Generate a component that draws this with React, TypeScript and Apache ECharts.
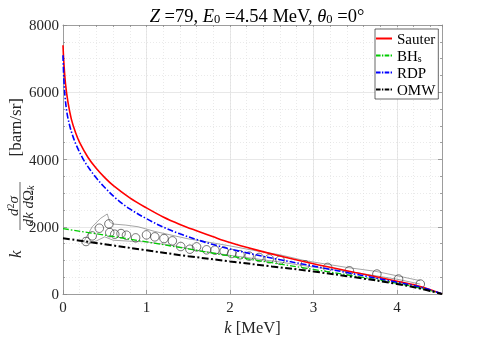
import { useEffect, useRef } from 'react';
import * as echarts from 'echarts';

const FONT = '"Liberation Serif", "DejaVu Serif", serif';
const TXT = '#262626';

// Sauter (red, solid)
const sauterK = [0, 0.01, 0.03, 0.06, 0.1, 0.15, 0.2, 0.3, 0.4, 0.5, 0.6, 0.8, 1.0, 1.2, 1.4, 1.6, 1.8, 2.0, 2.3, 2.6, 3.0, 3.5, 4.0, 4.3, 4.54];
const sauterV = [7400, 6900, 6250, 5700, 5200, 4800, 4500, 4060, 3730, 3460, 3230, 2860, 2560, 2290, 2070, 1880, 1700, 1530, 1320, 1130, 900, 640, 380, 210, 0];
// RDP (blue, dash-dot)
const rdpK = [0, 0.01, 0.025, 0.05, 0.085, 0.12, 0.16, 0.24, 0.32, 0.4, 0.48, 0.64, 0.8, 1.0, 1.2, 1.4, 1.6, 1.8, 2.0, 2.3, 2.6, 3.0, 3.5, 4.0, 4.3, 4.54];
const rdpV = [7100, 6400, 5850, 5350, 4960, 4680, 4420, 4020, 3710, 3450, 3220, 2830, 2530, 2240, 1990, 1790, 1620, 1470, 1340, 1170, 1020, 830, 590, 350, 195, 0];
// BHs (green, dash-dot)
const bhK = [0, 0.5, 1, 1.5, 2, 2.5, 3, 3.5, 4, 4.3, 4.54];
const bhV = [1945, 1750, 1550, 1340, 1130, 930, 730, 530, 320, 165, 0];
// OMW (black, dash-dot)
const omwK = [0, 0.5, 1, 1.5, 2, 2.5, 3, 3.5, 4, 4.3, 4.54];
const omwV = [1660, 1480, 1300, 1125, 970, 820, 670, 495, 300, 150, 0];
// Measured points
const expK = [0.276, 0.35, 0.435, 0.55, 0.56, 0.62, 0.695, 0.76, 0.87, 1.0, 1.1, 1.21, 1.31, 1.41, 1.52, 1.6, 1.72, 1.82, 1.93, 2.02, 2.12, 2.23, 2.35, 2.47, 2.6, 2.9, 3.17, 3.43, 3.76, 4.02, 4.28];
const expV = [1561, 1728, 1956, 2084, 1827, 1778, 1797, 1748, 1669, 1758, 1699, 1649, 1580, 1412, 1333, 1402, 1314, 1304, 1274, 1205, 1165, 1126, 1087, 1046, 1007, 868, 790, 691, 593, 444, 296];
// Uncertainty band outline
const bandUpK = [0.25, 0.35, 0.45, 0.53, 0.56, 0.6, 0.75, 0.9, 1.1, 1.3, 1.5, 1.7, 2.0, 2.3, 2.6, 2.9, 3.4, 3.75, 4.28];
const bandUpV = [1560, 2000, 2250, 2380, 2150, 2080, 2050, 2000, 1860, 1750, 1640, 1560, 1430, 1290, 1165, 990, 790, 672, 395];
const bandLoK = [0.25, 0.3, 0.4, 0.5, 0.6, 0.8, 1.0, 1.3, 1.6, 2.0, 2.3, 2.6, 3.0, 3.5, 4.0, 4.28];
const bandLoV = [1560, 1500, 1580, 1700, 1600, 1570, 1550, 1450, 1300, 1150, 1050, 950, 800, 640, 440, 296];

const xTicks = { min: 0, max: 4.54, major: 1, minor: 0.2 };
const yTicks = { min: 0, max: 8000, major: 2000 };

const zip = (a: number[], b: number[]) => a.map((v, i) => [v, b[i]]);

const ICON_SOLID = 'path://M0,0h16v2h-16z';
const ICON_DASHDOT = 'path://M0,0h5v2h-5z M6.5,0h1.5v2h-1.5z M9.5,0h5v2h-5z M16,0h1.5v2h-1.5z';

export default function App() {
  const ref = useRef<HTMLDivElement>(null);
  useEffect(() => {
    if (!ref.current) return;
    const chart = echarts.init(ref.current, undefined, { renderer: 'svg' });
    const axisLineStyle = { color: '#8a8a8a', width: 0.8 };
    const lineSeries = (name: string, k: number[], v: number[], color: string, width: number, type: any) => ({
      name, type: 'line', data: zip(k, v), showSymbol: false, symbol: 'none', smooth: 0.35,
      lineStyle: { color, width, type }, itemStyle: { color }, z: 4, silent: true,
    });
    chart.setOption({
      animation: false,
      title: {
        text: '{i|Z} =79, {i|E}{s|0} =4.54 MeV, {i|θ}{s|0} =0°',
        left: 252, top: 1, textAlign: 'center',
        textStyle: {
          fontSize: 18.5, fontWeight: 'normal', fontFamily: FONT, color: '#000',
          rich: {
            i: { fontStyle: 'italic', fontSize: 18.5, fontFamily: FONT, color: '#000' },
            s: { fontSize: 12.5, fontFamily: FONT, color: '#000', verticalAlign: 'bottom', lineHeight: 13 },
          },
        },
      },
      legend: {
        data: [
          { name: 'Sauter', icon: ICON_SOLID },
          { name: 'BHs', icon: ICON_DASHDOT },
          { name: 'RDP', icon: ICON_DASHDOT },
          { name: 'OMW', icon: ICON_DASHDOT },
        ],
        orient: 'vertical', left: 375, top: 29,
        padding: [2, 3, 2, 1], itemGap: 2, itemWidth: 16, itemHeight: 2,
        backgroundColor: '#fff', borderColor: '#262626', borderWidth: 0.7,
        formatter: (n: string) => (n === 'BHs' ? 'BH{s|s}' : n),
        textStyle: {
          fontSize: 15, fontFamily: FONT, color: '#000', lineHeight: 15,
          rich: { s: { fontSize: 10, fontFamily: FONT, color: '#000', verticalAlign: 'bottom', lineHeight: 11 } },
        },
      },
      grid: { left: 63, right: 46, top: 25, bottom: 46, containLabel: false },
      xAxis: [
        {
          type: 'value', position: 'bottom', min: xTicks.min, max: xTicks.max, interval: xTicks.major,
          axisLine: { show: true, onZero: false, lineStyle: axisLineStyle },
          axisTick: { show: true, inside: true, length: 4, lineStyle: axisLineStyle },
          axisLabel: { fontSize: 15, fontFamily: FONT, color: TXT, margin: 5, showMaxLabel: false },
          splitLine: { show: true, lineStyle: { color: '#e2e2e2', width: 0.8 } },
          name: '{i|k} [MeV]', nameLocation: 'middle', nameGap: 25,
          nameTextStyle: {
            fontSize: 16.5, fontFamily: FONT, color: TXT,
            rich: { i: { fontStyle: 'italic', fontSize: 16.5, fontFamily: FONT, color: TXT } },
          },
        },
        {
          type: 'value', position: 'top', min: xTicks.min, max: xTicks.max, interval: xTicks.minor,
          axisLine: { show: true, onZero: false, lineStyle: axisLineStyle },
          axisTick: { show: true, inside: true, length: 2, lineStyle: axisLineStyle },
          axisLabel: { show: false },
          splitLine: { show: true, lineStyle: { color: '#dcdcdc', width: 0.6, type: [1, 2] } },
        },
      ],
      yAxis: [
        {
          type: 'value', position: 'left', min: yTicks.min, max: yTicks.max, interval: yTicks.major,
          axisLine: { show: true, onZero: false, lineStyle: axisLineStyle },
          axisTick: { show: true, inside: true, length: 4, lineStyle: axisLineStyle },
          minorTick: { show: true, splitNumber: 4, length: 2, lineStyle: axisLineStyle },
          minorSplitLine: { show: true, lineStyle: { color: '#dcdcdc', width: 0.6, type: [1, 2] } },
          axisLabel: { fontSize: 15, fontFamily: FONT, color: TXT, margin: 4, formatter: (v: number) => String(v) },
          splitLine: { show: true, lineStyle: { color: '#e2e2e2', width: 0.8 } },
        },
        {
          type: 'value', position: 'right', min: yTicks.min, max: yTicks.max, interval: yTicks.major,
          axisLine: { show: true, onZero: false, lineStyle: axisLineStyle },
          axisTick: { show: true, inside: true, length: 4, lineStyle: axisLineStyle },
          minorTick: { show: true, splitNumber: 4, length: 2, lineStyle: axisLineStyle },
          axisLabel: { show: false },
          splitLine: { show: false },
        },
      ],
      series: [
        { name: 'bandUp', type: 'line', data: zip(bandUpK, bandUpV), symbol: 'none', showSymbol: false, lineStyle: { color: '#6a6a6a', width: 0.6 }, silent: true, z: 2 },
        { name: 'bandLo', type: 'line', data: zip(bandLoK, bandLoV), symbol: 'none', showSymbol: false, lineStyle: { color: '#6a6a6a', width: 0.6 }, silent: true, z: 2 },
        {
          name: 'exp', type: 'scatter', data: zip(expK, expV), symbol: 'circle', symbolSize: 8.5,
          itemStyle: { color: 'rgba(0,0,0,0)', borderColor: '#222', borderWidth: 0.8 }, silent: true, z: 3,
        },
        lineSeries('Sauter', sauterK, sauterV, '#ff0000', 1.6, 'solid'),
        lineSeries('BHs', bhK, bhV, '#00cc00', 1.3, [6, 2, 1.5, 2]),
        lineSeries('RDP', rdpK, rdpV, '#0000ff', 1.6, [6, 2, 1.5, 2]),
        lineSeries('OMW', omwK, omwV, '#000000', 2, [7, 2.5, 2, 2.5]),
      ],
      graphic: [
        {
          type: 'group', x: 15.5, y: 258, rotation: Math.PI / 2, silent: true,
          children: [
            { type: 'text', x: 0, y: 0, style: { text: 'k', fontSize: 17, fontStyle: 'italic', fontFamily: FONT, fill: TXT, align: 'left', verticalAlign: 'middle' } },
            {
              type: 'text', x: 52, y: -3,
              style: {
                text: '{i|d}{p|2}{i|σ}', fill: TXT, align: 'center', verticalAlign: 'middle',
                rich: { i: { fontStyle: 'italic', fontSize: 15, fontFamily: FONT, fill: TXT }, p: { fontSize: 10, fontFamily: FONT, fill: TXT, verticalAlign: 'top' } },
              },
            },
            { type: 'line', shape: { x1: 28, y1: 4.5, x2: 76, y2: 4.5 }, style: { stroke: TXT, lineWidth: 0.7 } },
            {
              type: 'text', x: 52, y: 12,
              style: {
                text: '{i|dk d}{n|Ω}{s|k}', fill: TXT, align: 'center', verticalAlign: 'middle',
                rich: { i: { fontStyle: 'italic', fontSize: 15, fontFamily: FONT, fill: TXT }, n: { fontSize: 15, fontFamily: FONT, fill: TXT }, s: { fontStyle: 'italic', fontSize: 10, fontFamily: FONT, fill: TXT, verticalAlign: 'bottom' } },
              },
            },
            { type: 'text', x: 160, y: 0, style: { text: '[barn/sr]', fontSize: 17, fontFamily: FONT, fill: TXT, align: 'right', verticalAlign: 'middle' } },
          ],
        },
      ],
    });
    return () => chart.dispose();
  }, []);
  return <div ref={ref} style={{ position: 'fixed', left: 0, top: 0, width: 488, height: 341 }} />;
}
